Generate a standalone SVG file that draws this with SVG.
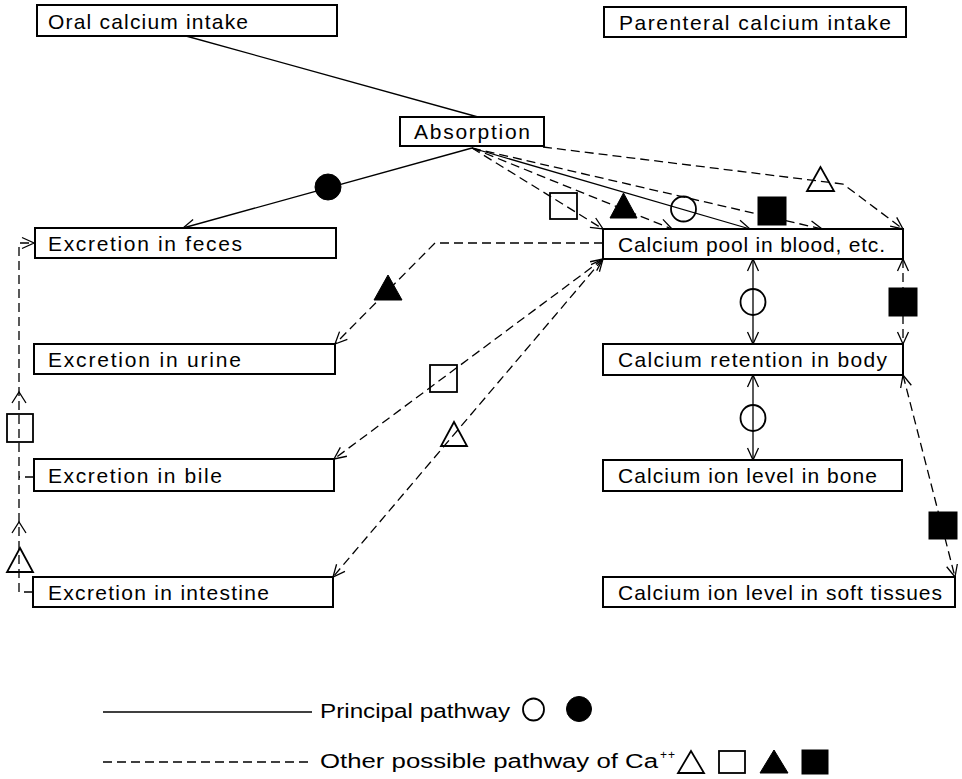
<svg xmlns="http://www.w3.org/2000/svg" width="962" height="779" viewBox="0 0 962 779">
<style>
  .box{fill:#fff;stroke:#000;stroke-width:2}
  .lbl{font-family:"Liberation Sans",Arial,sans-serif;font-size:21px;fill:#000}
  .leg{font-family:"Liberation Sans",Arial,sans-serif;font-size:20px;fill:#000}
  .solid{fill:none;stroke:#000;stroke-width:1.3}
  .dash{fill:none;stroke:#000;stroke-width:1.3;stroke-dasharray:9 5}
  .open{fill:none;stroke:#000;stroke-width:1.8}
  .fill{fill:#000;stroke:#000;stroke-width:1}
</style>
<defs>
  <marker id="ah" markerUnits="userSpaceOnUse" markerWidth="16" markerHeight="16" viewBox="-14 -8 16 16" refX="0" refY="0" orient="auto-start-reverse" overflow="visible">
    <path d="M-12,-5.5 L0,0 L-12,5.5" fill="none" stroke="#000" stroke-width="1.3"/>
  </marker>
</defs>
<rect width="962" height="779" fill="#fff"/>

<g id="connectors">
  <path class="solid" d="M186,36 L478,117"/>
  <path class="solid" d="M472,148 L183,228" marker-end="url(#ah)"/>
  <path class="dash" d="M472,148 L603,229" marker-end="url(#ah)"/>
  <path class="dash" d="M472,148 L672,229" marker-end="url(#ah)"/>
  <path class="solid" d="M472,148 L750,229" marker-end="url(#ah)"/>
  <path class="dash" d="M472,148 L822,229" marker-end="url(#ah)"/>
  <path class="dash" d="M543,147 L843,184 L903,229" marker-end="url(#ah)"/>
  <path class="dash" d="M603,243 L435,243 L335,344" marker-end="url(#ah)"/>
  <path class="dash" d="M603,259 L334,459" marker-start="url(#ah)" marker-end="url(#ah)"/>
  <path class="dash" d="M603,259 L333,577" marker-start="url(#ah)" marker-end="url(#ah)"/>
  <path class="solid" d="M753,259 L753,344" marker-start="url(#ah)" marker-end="url(#ah)"/>
  <path class="solid" d="M753,375 L753,460" marker-start="url(#ah)" marker-end="url(#ah)"/>
  <path class="dash" d="M903,259 L903,344" marker-start="url(#ah)" marker-end="url(#ah)"/>
  <path class="dash" d="M903,375 L955,577" marker-start="url(#ah)" marker-end="url(#ah)"/>
  <path class="dash" d="M33,592 L19,592 L19,243 L34,243" marker-end="url(#ah)"/>
  <path class="dash" d="M34,477 L19,477"/>
  <path class="solid" d="M12,403 L19,392 L26,403"/>
  <path class="solid" d="M12,533 L19,522 L26,533"/>

  <circle class="fill" cx="328" cy="187" r="13"/>
  <rect class="open" x="550" y="193" width="27" height="26"/>
  <polygon class="fill" points="623.5,193 610,218 637,218"/>
  <circle class="open" cx="683.5" cy="209" r="12.5"/>
  <rect class="fill" x="758" y="197" width="28" height="28"/>
  <polygon class="open" points="820.5,167 807,191 834,191"/>
  <polygon class="fill" points="388,275 374,300 402,300"/>
  <rect class="open" x="430" y="365" width="27" height="27"/>
  <polygon class="open" points="454,422 441,446 467,446"/>
  <ellipse class="open" cx="753" cy="302" rx="12.5" ry="13"/>
  <ellipse class="open" cx="753" cy="418" rx="12.5" ry="13"/>
  <rect class="fill" x="889" y="288" width="28" height="28"/>
  <rect class="fill" x="929" y="512" width="28" height="27"/>
  <rect class="open" x="7" y="414" width="26" height="28"/>
  <polygon class="open" points="20,548 7,572 33,572"/>
</g>

<g id="oral">
  <rect class="box" x="37" y="5" width="300" height="31"/>
  <text class="lbl" x="48" y="28.5" textLength="200" lengthAdjust="spacing">Oral calcium intake</text>
</g>
<g id="parenteral">
  <rect class="box" x="604" y="7" width="302" height="30"/>
  <text class="lbl" x="619" y="30" textLength="272" lengthAdjust="spacing">Parenteral calcium intake</text>
</g>
<g id="absorption">
  <rect class="box" x="400" y="117" width="144" height="29"/>
  <text class="lbl" x="414" y="139" textLength="116" lengthAdjust="spacing">Absorption</text>
</g>
<g id="feces">
  <rect class="box" x="35" y="228" width="301" height="30"/>
  <text class="lbl" x="48" y="251" textLength="194" lengthAdjust="spacing">Excretion in feces</text>
</g>
<g id="urine">
  <rect class="box" x="34" y="344" width="301" height="30"/>
  <text class="lbl" x="48" y="367" textLength="193" lengthAdjust="spacing">Excretion in urine</text>
</g>
<g id="bile">
  <rect class="box" x="34" y="459" width="300" height="32"/>
  <text class="lbl" x="48" y="483" textLength="174" lengthAdjust="spacing">Excretion in bile</text>
</g>
<g id="intestine">
  <rect class="box" x="33" y="577" width="300" height="30"/>
  <text class="lbl" x="48" y="600" textLength="221" lengthAdjust="spacing">Excretion in intestine</text>
</g>
<g id="pool">
  <rect class="box" x="603" y="229" width="300" height="30"/>
  <text class="lbl" x="618" y="252" textLength="267" lengthAdjust="spacing">Calcium pool in blood, etc.</text>
</g>
<g id="retention">
  <rect class="box" x="603" y="344" width="300" height="31"/>
  <text class="lbl" x="618" y="367" textLength="269" lengthAdjust="spacing">Calcium retention in body</text>
</g>
<g id="bone">
  <rect class="box" x="603" y="460" width="299" height="31"/>
  <text class="lbl" x="618" y="483" textLength="259" lengthAdjust="spacing">Calcium ion level in bone</text>
</g>
<g id="soft">
  <rect class="box" x="603" y="577" width="352" height="30"/>
  <text class="lbl" x="618" y="600" textLength="324" lengthAdjust="spacing">Calcium ion level in soft tissues</text>
</g>

<g id="legend">
  <path class="solid" d="M103,712 L312,712"/>
  <text class="leg" x="320" y="718" textLength="190" lengthAdjust="spacingAndGlyphs">Principal pathway</text>
  <ellipse class="open" cx="533.5" cy="709.5" rx="10.5" ry="11"/>
  <circle class="fill" cx="579" cy="709" r="12.5"/>
  <path class="dash" d="M103,762 L312,762"/>
  <text class="leg"><tspan x="320" y="768" textLength="338" lengthAdjust="spacingAndGlyphs">Other possible pathway of Ca</tspan><tspan x="660" y="759" font-size="12" textLength="15" lengthAdjust="spacing">++</tspan></text>
  <polygon class="open" points="691,751 678,773 704,773"/>
  <rect class="open" x="719" y="751" width="26" height="22"/>
  <polygon class="fill" points="774,750 760,773 788,773"/>
  <rect class="fill" x="802" y="750" width="26" height="24"/>
</g>
</svg>
